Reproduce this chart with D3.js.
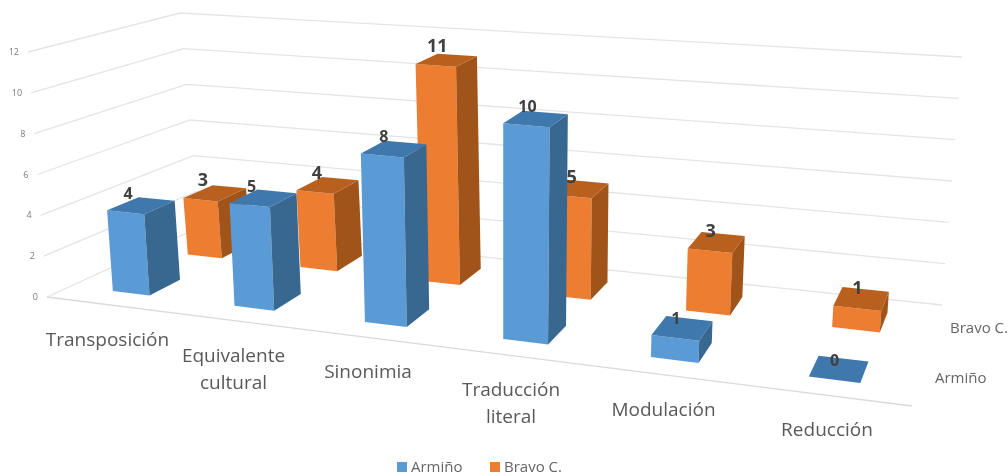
<!DOCTYPE html>
<html><head><meta charset="utf-8">
<script src="https://cdn.jsdelivr.net/npm/d3@7"></script>
<style>html,body{margin:0;padding:0;background:#fff;overflow:hidden}svg{display:block;filter:blur(.45px)}text{font-family:"Open Sans",sans-serif}</style>
</head><body><svg id="c" width="1008" height="476"></svg>
<script>
const categories=[["Transposición"],["Equivalente","cultural"],["Sinonimia"],["Traducción","literal"],["Modulación"],["Reducción"]];
const seriesNames=["Armiño","Bravo C."];
const armino=[4,5,8,10,1,0];
const bravo=[3,4,11,5,3,1];
const yTicks=[0,2,4,6,8,10,12];
const colors={
 "Armiño":{front:"#5B9BD5",top:"#3E78AD",side:"#38678F"},
 "Bravo C.":{front:"#ED7D31",top:"#B9601F",side:"#A1541A"}};
// floor / ceiling corners of the chart box [x,y]
const FL0=[47,297],FL1=[28,52],BL0=[200,227],BL1=[180,13],BR0=[942,305],BR1=[962,57],FR0=[912,406],FR1=[930,124];
const lerp=(a,b,t)=>a+(b-a)*t;
const uScale=d3.scaleLinear().domain([0,1,2,3,4,5,6]).range([0,121,252,390,538,695,865].map(d=>d/865));
const vScale=d3.scaleLinear().domain([0,12]).range([0,1]);
const wRows={"Armiño":[.16,.375],"Bravo C.":[.67,.87]};
function P(i,w,val){
 const u=uScale(i),v=vScale(val);
 return [0,1].map(k=>{
  const f0=lerp(FL0[k],FR0[k],u),f1=lerp(FL1[k],FR1[k],u),b0=lerp(BL0[k],BR0[k],u),b1=lerp(BL1[k],BR1[k],u);
  return lerp(lerp(f0,b0,w),lerp(f1,b1,w),v);
 });
}
const svg=d3.select("#c");
const line=d3.line();
const grid=svg.append("g").attr("fill","none").attr("stroke","#E4E4E4").attr("stroke-width",1.3);
yTicks.forEach(t=>{
 grid.append("path").attr("d",line([P(0,0,t),P(0,1,t),P(6,1,t)]));
});
grid.append("path").attr("d",line([P(0,0,0),P(6,0,0)])).attr("stroke","#DADADA");
svg.append("g").selectAll("text").data(yTicks).join("text")
 .attr("x",d=>P(0,0,d)[0]-9).attr("y",d=>P(0,0,d)[1]+3).attr("text-anchor","end")
 .attr("font-size",9).attr("fill","#7a7a7a").text(d=>d);
const slotOff=.35,slotW=.31;
function bar(name,i,val){
 const [w0,w1]=wRows[name],a=i+slotOff,b=a+slotW,c=colors[name];
 const g=svg.append("g");
 g.append("path").attr("fill",c.front).attr("d",line([P(a,w0,0),P(b,w0,0),P(b,w0,val),P(a,w0,val)])+"Z");
 g.append("path").attr("fill",c.side).attr("d",line([P(b,w0,0),P(b,w1,0),P(b,w1,val),P(b,w0,val)])+"Z");
 g.append("path").attr("fill",c.top).attr("d",line([P(a,w0,val),P(b,w0,val),P(b,w1,val),P(a,w1,val)])+"Z");
}
bravo.forEach((d,i)=>bar("Bravo C.",i,d));
armino.forEach((d,i)=>bar("Armiño",i,d));
function label(name,i,val,size){
 const w0=wRows[name][0];
 const p=P(i+.5,w0+.02,val);
 svg.append("text").attr("x",p[0]).attr("y",p[1]-12).attr("text-anchor","middle").attr("font-size",size)
  .attr("font-weight",700).attr("fill","#404040").text(val);
}
bravo.forEach((d,i)=>label("Bravo C.",i,d,18));
armino.forEach((d,i)=>label("Armiño",i,d,16));
categories.forEach((lines,i)=>{
 const p=P(i+.5,0,0);
 const txt=svg.append("text").attr("text-anchor","middle").attr("font-size",19).attr("fill","#595959");
 lines.forEach((s,j)=>txt.append("tspan").attr("x",p[0]).attr("y",p[1]+41+j*27).text(s));
});
svg.append("text").attr("x",950).attr("y",333).attr("font-size",15).attr("fill","#666").text(seriesNames[1]);
svg.append("text").attr("x",935).attr("y",383).attr("font-size",15).attr("fill","#666").text(seriesNames[0]);
const lx=d3.scaleOrdinal().domain(seriesNames).range([397,490]);
const lg=svg.append("g").selectAll("g").data(seriesNames).join("g").attr("transform",d=>`translate(${lx(d)},462)`);
lg.append("rect").attr("width",10).attr("height",10).attr("fill",d=>colors[d].front);
lg.append("text").attr("x",14).attr("y",10).attr("font-size",15).attr("fill","#666").text(d=>d);
</script></body></html>
